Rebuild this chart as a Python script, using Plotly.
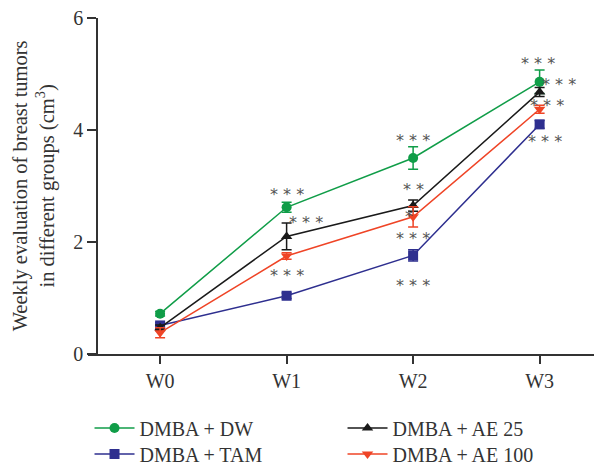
import plotly.graph_objects as go

weeks = ["W0", "W1", "W2", "W3"]
dw = [0.72, 2.62, 3.50, 4.86]
dw_err = [0.04, 0.09, 0.20, 0.21]
tam = [0.51, 1.04, 1.76, 4.10]
tam_err = [0.05, 0.05, 0.10, 0.07]
ae25 = [0.47, 2.10, 2.65, 4.68]
ae25_err = [0.05, 0.24, 0.10, 0.08]
ae100 = [0.38, 1.75, 2.45, 4.37]
ae100_err = [0.09, 0.06, 0.18, 0.07]

sig_x = [1.0, 1.156, 1.0, 2.0, 2.0, 1.97, 2.0, 2.0, 2.99, 3.15, 3.06, 3.04]
sig_y = [2.84, 2.34, 1.41, 3.82, 2.93, 2.46, 2.07, 1.23, 5.18, 4.82, 4.43, 3.80]
sig_txt = ["***", "***", "***", "***", "**", "*", "***", "***", "***", "***", "***", "***"]

FONT = "Liberation Serif"
fig = go.Figure()

series = [
    ("DMBA + DW", dw, dw_err, "#109d48", "circle", "legend"),
    ("DMBA + TAM", tam, tam_err, "#2e2f8f", "square", "legend2"),
    ("DMBA + AE 25", ae25, ae25_err, "#1a1a1a", "triangle-up", "legend3"),
    ("DMBA + AE 100", ae100, ae100_err, "#ef4426", "triangle-down", "legend4"),
]
for name, vals, err, col, sym, leg in series:
    fig.add_trace(go.Scatter(
        x=weeks, y=vals, name=name, mode="lines+markers", legend=leg,
        line=dict(color=col, width=1.5),
        marker=dict(symbol=sym, size=10, color=col),
        error_y=dict(type="data", array=err, visible=True, color=col, thickness=1.5, width=5),
    ))

for x, y, t in zip(sig_x, sig_y, sig_txt):
    fig.add_annotation(x=x, y=y, text=" ".join(t), showarrow=False,
                       font=dict(family="DejaVu Sans", size=16, color="#555555"),
                       xanchor="center", yanchor="middle")

fig.add_annotation(
    xref="paper", yref="paper", x=-0.106, y=0.5,
    text="Weekly evaluation of breast tumors<br>in different groups (cm<sup>3</sup>)",
    textangle=-90, showarrow=False, xanchor="center", yanchor="middle",
    font=dict(family=FONT, size=20.5, color="#333333"))

leg_common = dict(orientation="v", yanchor="middle", xanchor="left",
                  font=dict(family=FONT, size=20, color="#333333"),
                  itemwidth=40, tracegroupgap=0, bgcolor="rgba(0,0,0,0)")

def py(pix):
    return (354 - pix) / 336.0

fig.update_layout(
    width=594, height=468,
    margin=dict(l=88, r=0, t=18, b=114, autoexpand=False),
    paper_bgcolor="white", plot_bgcolor="white",
    font=dict(family=FONT, size=20, color="#333333"),
    xaxis=dict(type="category", range=[-0.57, 3.43], showline=True, linecolor="#333333",
               linewidth=1.5, ticks="outside", ticklen=8, tickwidth=1.5, tickcolor="#333333",
               showgrid=False, zeroline=False, tickfont=dict(size=20)),
    yaxis=dict(range=[0, 6], tickvals=[0, 2, 4, 6], showline=True, linecolor="#333333",
               linewidth=1.5, ticks="outside", ticklen=9, tickwidth=1.5, tickcolor="#333333",
               showgrid=False, zeroline=False, anchor="free", position=0.0178,
               tickfont=dict(size=20)),
    showlegend=True,
    legend=dict(x=0.003, y=py(428), **leg_common),
    legend2=dict(x=0.003, y=py(454), **leg_common),
    legend3=dict(x=0.503, y=py(428), **leg_common),
    legend4=dict(x=0.503, y=py(454), **leg_common),
)

fig.write_html("out.html", config={"displayModeBar": False},
               post_script="document.body.style.margin='0px';")
